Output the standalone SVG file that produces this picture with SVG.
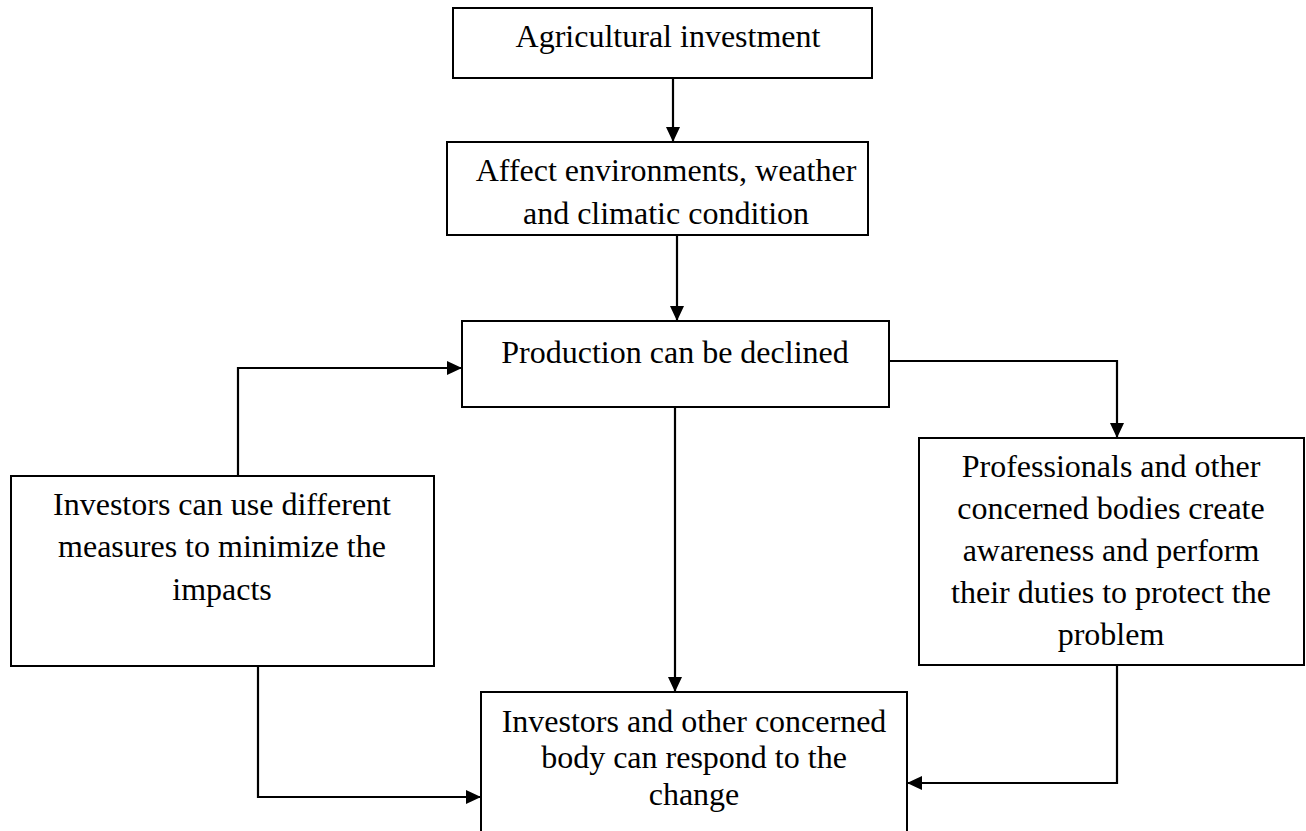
<svg xmlns="http://www.w3.org/2000/svg" width="1306" height="831" viewBox="0 0 1306 831">
<style>
.box{fill:#fff;stroke:#000;stroke-width:2}
.t{font-family:"Liberation Serif","Times New Roman",serif;font-size:32px;fill:#000;text-anchor:middle}
.c{fill:none;stroke:#000;stroke-width:2.2}
</style>
<defs>
<marker id="ah" markerUnits="userSpaceOnUse" markerWidth="16" markerHeight="16" viewBox="0 0 16 16" refX="15" refY="8" orient="auto">
<path d="M0,1 L15,8 L0,15 Z" fill="#000"/>
</marker>
</defs>
<rect width="1306" height="831" fill="#fff"/>
<g id="connectors">
<path class="c" d="M673,78 V142" marker-end="url(#ah)"/>
<path class="c" d="M677,235 V321" marker-end="url(#ah)"/>
<path class="c" d="M675,407 V692" marker-end="url(#ah)"/>
<path class="c" d="M238,476 V368 H462" marker-end="url(#ah)"/>
<path class="c" d="M258,666 V797 H481" marker-end="url(#ah)"/>
<path class="c" d="M889,361 H1117 V438" marker-end="url(#ah)"/>
<path class="c" d="M1117,665 V783 H907" marker-end="url(#ah)"/>
</g>
<g id="n1">
<rect class="box" x="453" y="8" width="419" height="70"/>
<text class="t" x="668" y="47">Agricultural investment</text>
</g>
<g id="n2">
<rect class="box" x="447" y="142" width="421" height="93"/>
<text class="t" x="666" y="181">Affect environments, weather</text>
<text class="t" x="666" y="224">and climatic condition</text>
</g>
<g id="n3">
<rect class="box" x="462" y="321" width="427" height="86"/>
<text class="t" x="675" y="363">Production can be declined</text>
</g>
<g id="n4">
<rect class="box" x="11" y="476" width="423" height="190"/>
<text class="t" x="222" y="515">Investors can use different</text>
<text class="t" x="222" y="557">measures to minimize the</text>
<text class="t" x="222" y="600">impacts</text>
</g>
<g id="n5">
<rect class="box" x="919" y="438" width="385" height="227"/>
<text class="t" x="1111" y="477">Professionals and other</text>
<text class="t" x="1111" y="519">concerned bodies create</text>
<text class="t" x="1111" y="561">awareness and perform</text>
<text class="t" x="1111" y="603">their duties to protect the</text>
<text class="t" x="1111" y="645">problem</text>
</g>
<g id="n6">
<rect class="box" x="481" y="692" width="426" height="150"/>
<text class="t" x="694" y="732">Investors and other concerned</text>
<text class="t" x="694" y="768">body can respond to the</text>
<text class="t" x="694" y="805">change</text>
</g>
</svg>
